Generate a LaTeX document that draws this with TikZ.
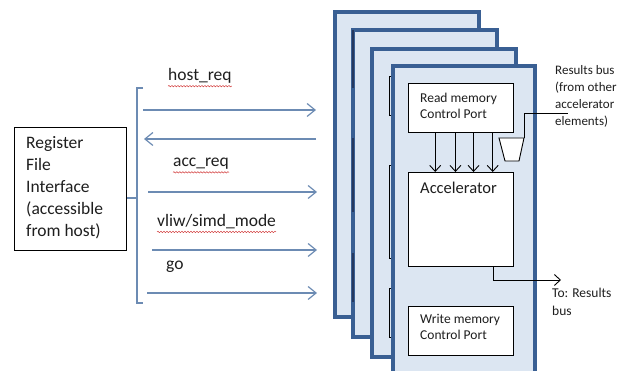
\documentclass[tikz,border=0pt]{standalone}
\usepackage{fontspec}
\setmainfont{Carlito}
\usetikzlibrary{arrows.meta,calc,decorations.pathmorphing}
\definecolor{panelfill}{HTML}{DCE6F2}
\definecolor{panelborder}{HTML}{395F93}
\definecolor{paneldark}{HTML}{26395F}
\definecolor{sigcol}{HTML}{6C8BB3}
\definecolor{textcol}{HTML}{1E1E1E}
\definecolor{squig}{HTML}{D23C3C}
\newcommand{\biglab}{\fontsize{17.5}{22}\selectfont}
\newcommand{\midlab}{\fontsize{13.5}{15.5}\selectfont}
\newcommand{\smalllab}{\fontsize{13}{17}\selectfont}
\tikzset{
  panel/.style={draw=panelborder, fill=panelfill, line width=3.4pt},
  box/.style={draw=black, fill=white, line width=0.9pt, inner sep=0},
  sig/.style={draw=sigcol, line width=1.2pt, -{Straight Barb[length=8pt,width=13pt]}},
  inarr/.style={draw=black, line width=0.9pt, -{Straight Barb[length=6pt,width=11pt]}},
  lab/.style={anchor=west, inner sep=0, text=textcol},
  spell/.style={draw=squig, line width=0.5pt, decorate, decoration={snake, amplitude=0.7pt, segment length=3pt}},
  bracketline/.style={draw=black, line width=0.8pt},
}
\begin{document}
\begin{tikzpicture}[x=1pt,y=-1pt]
\useasboundingbox (0,0) rectangle (625,371);
\clip (0,0) rectangle (625,371);
% left register file box
\node[draw=black, line width=1pt, minimum width=112pt, minimum height=123pt, anchor=north west, inner sep=0] (reg) at (14,127) {};
\node[lab, align=left, font=\biglab] (regtxt) at (26,188) {Register\\File\\Interface\\(accessible\\from host)};
% bracket
\coordinate (brtop) at (137,88);
\coordinate (brbot) at (137,303);
\coordinate (brmid) at (137,198);
\draw[draw=sigcol, line width=1.1pt] ($(brtop)+(6,0)$) -- (brtop) -- (brbot) -- ($(brbot)+(6,0)$);
\draw[draw=sigcol, line width=1.1pt] (brmid) -- (reg.east |- brmid);
% signal arrows
\coordinate (s1a) at (143,110); \coordinate (s1b) at (316,110);
\coordinate (s2a) at (316,139); \coordinate (s2b) at (144,139);
\coordinate (s3a) at (148,192); \coordinate (s3b) at (317,192);
\coordinate (s4a) at (152,250); \coordinate (s4b) at (317,250);
\coordinate (s5a) at (147,293); \coordinate (s5b) at (317,293);
\draw[sig] (s1a) -- (s1b);
\draw[sig] (s2a) -- (s2b);
\draw[sig] (s3a) -- (s3b);
\draw[sig] (s4a) -- (s4b);
\draw[sig] (s5a) -- (s5b);
% labels
\node[lab, font=\biglab] (l1) at (168,76) {host\_req};
\node[lab, font=\biglab] (l2) at (173,164) {acc\_req};
\node[lab, font=\biglab] (l3) at (157,222) {vliw/simd\_mode};
\node[lab, font=\biglab] (l4) at (166,267) {go};
\draw[spell] ($(l1.south west)+(0,2.5)$) -- ($(l1.south east)+(0,2.5)$);
\draw[spell] ($(l2.south west)+(0,2.5)$) -- ($(l2.south east)+(0,2.5)$);
\draw[spell] ($(l3.south west)+(0,2.5)$) -- ($(l3.south east)+(0,2.5)$);
% panels
\path[panel] (335,12) rectangle (479,317);
\path[panel] (353,30) rectangle (497,337);
\draw[draw=paneldark, line width=2.6pt] (353,30) -- (353,88);
\draw[draw=paneldark, line width=2.6pt] (353,138) -- (353,212);
\draw[draw=paneldark, line width=2.6pt] (353,253) -- (353,302);
\path[panel] (372,49) rectangle (516,357);
\draw[bracketline] (393,76) -- (389,76) -- (389,115) -- (393,115);
\draw[bracketline] (393,165) -- (389,165) -- (389,258) -- (393,258);
\draw[bracketline] (393,288) -- (389,288) -- (389,337) -- (393,337);
\path[panel] (393,66) rectangle (535,380);
% inner boxes
\node[box, minimum width=105pt, minimum height=49pt, anchor=north west] (read) at (408,83) {};
\node[lab, align=left, font=\midlab] (readtxt) at (420,106) {Read memory\\Control Port};
\node[box, minimum width=105pt, minimum height=94pt, anchor=north west] (acc) at (408,172) {};
\node[lab, font=\fontsize{16.5}{19}\selectfont] (acctxt) at (420,188) {Accelerator};
\node[box, minimum width=105pt, minimum height=49pt, anchor=north west] (write) at (408,306) {};
\node[lab, align=left, font=\midlab] (writetxt) at (420,327) {Write memory\\Control Port};
% read -> accelerator arrows
\foreach \f in {0.257,0.448,0.619,0.8}{
  \draw[inarr] ($(read.south west)!\f!(read.south east)$) -- ($(acc.north west)!\f!(acc.north east)$);
}
% mux
\coordinate (mtl) at (499,138); \coordinate (mtr) at (524,138);
\coordinate (mbr) at (519,161); \coordinate (mbl) at (505,161);
\draw[draw=black, line width=0.9pt, fill=white] (mtl) -- (mtr) -- (mbr) -- (mbl) -- cycle;
\coordinate (busend) at (568,113);
\draw[draw=black, line width=0.9pt] (mtr) |- (busend);
\node[lab, align=left, font=\smalllab] (bustxt) at (555,96) {Results bus\\(from other\\accelerator\\elements)};
% output
\coordinate (outend) at (561,280);
\draw[inarr] ($(acc.south west)!0.81!(acc.south east)$) |- (outend);
\node[lab, align=left, font=\fontsize{13.5}{18}\selectfont] (outtxt) at (552,302) {To: Results\\bus};
\end{tikzpicture}
\end{document}
